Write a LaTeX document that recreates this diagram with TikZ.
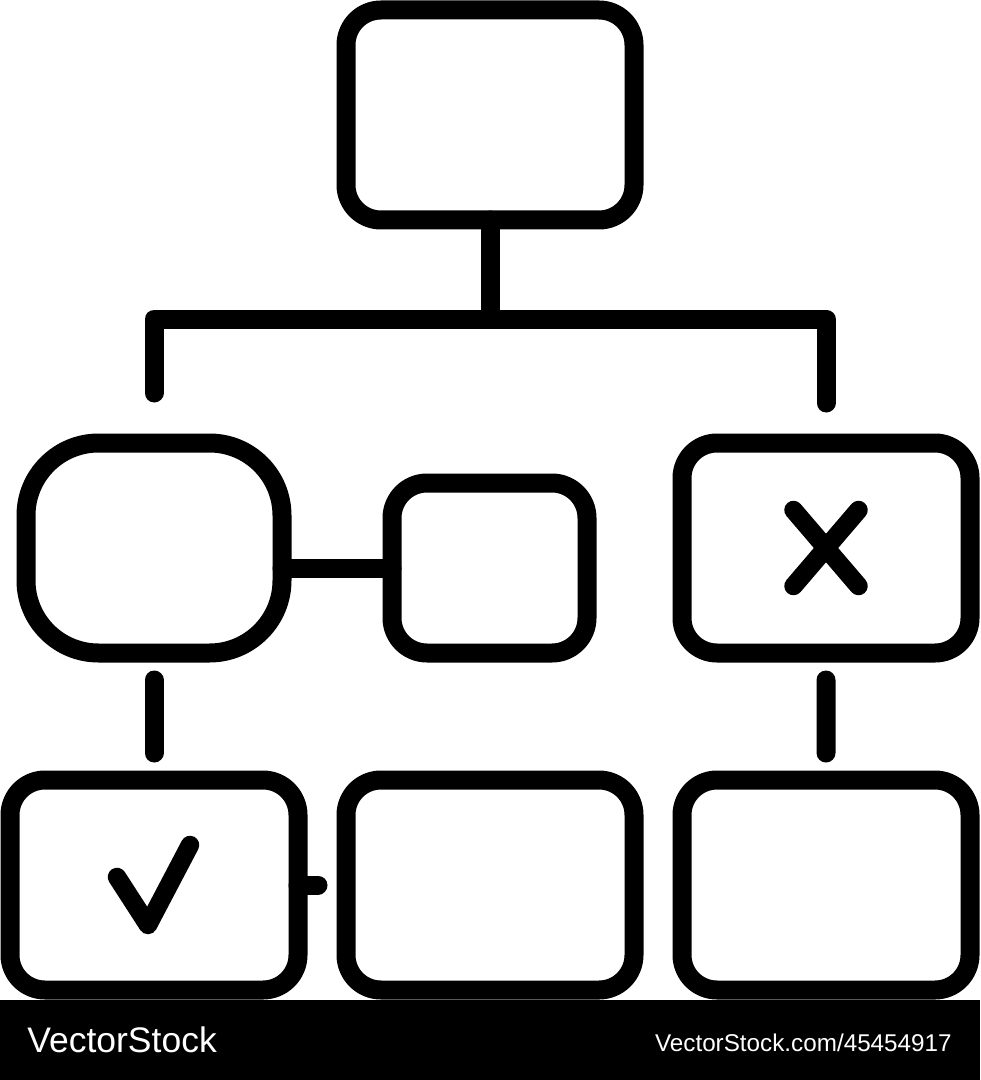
\documentclass[tikz,border=0pt]{standalone}
\usepackage{fontspec}
\setmainfont{Liberation Sans}
\usetikzlibrary{positioning}
\tikzstyle{box} = [draw, rectangle, line width=0.38cm, rounded corners=0.7cm, outer sep=0pt, inner sep=0pt, minimum width=5.76cm, minimum height=4.2cm]
\tikzstyle{wire} = [line width=0.38cm, line cap=round, line join=round]
\tikzstyle{spaced} = [shorten <=0.54cm, shorten >=0.54cm]
\tikzstyle{glyph} = [line width=0.37cm, line cap=round, line join=round]
\tikzstyle{label} = [text=white, inner sep=0pt]

\begin{document}
\begin{tikzpicture}
    \useasboundingbox (0,0) rectangle (19.6,-21.6);
    \fill[white] (0,0) rectangle (19.6,-21.6);

    % boxes
    \node[box] (top) at (9.8,-2.3) {};
    \node[box, minimum width=5.12cm, rounded corners=1.45cm] (lmid)[below left=4.46cm and 1.28cm of top] {};
    \node[box, minimum width=3.9cm, minimum height=3.4cm] (smid)[right=2.2cm of lmid, yshift=-0.4cm] {};
    \node[box] (rmid)[right=8cm of lmid] {};
    \node[box] (bl)[below=2.54cm of lmid] {};
    \node[box] (bm)[right=0.96cm of bl] {};
    \node[box] (br)[right=0.96cm of bm] {};

    \coordinate[below=1.98cm of top] (hub);
    \coordinate[right=0.4cm of bl.east] (stub);

    % connectors
    \draw[wire] (top) -- (hub);
    \draw[wire, shorten <=1cm, shorten >=0.8cm] (lmid.north) |- (hub) -| (rmid.north);
    \draw[wire] (lmid.east |- smid) -- (smid.west);
    \draw[wire, spaced] (lmid) -- (bl);
    \draw[wire, spaced] (rmid) -- (br);
    \draw[wire] (bl.east) -- (stub);

    % marks
    \draw[glyph] ([shift={(-0.65,0.76)}]rmid.center) -- ([shift={(0.65,-0.76)}]rmid.center);
    \draw[glyph] ([shift={(0.65,0.76)}]rmid.center) -- ([shift={(-0.65,-0.76)}]rmid.center);
    \draw[glyph] ([shift={(-0.74,0.16)}]bl.center) -- ([shift={(-0.12,-0.8)}]bl.center) -- ([shift={(0.72,0.8)}]bl.center);

    % footer
    \fill[black] (0,-20) rectangle (19.6,-21.6);
    \node[label, anchor=base west, font=\fontsize{20.2}{24}\selectfont] (brand) at (0.54,-21.04) {VectorStock};
    \node[label, anchor=base east, font=\fontsize{13.8}{16}\selectfont] (stockid) at (19.04,-21.02) {VectorStock.com/45454917};
\end{tikzpicture}
\end{document}
